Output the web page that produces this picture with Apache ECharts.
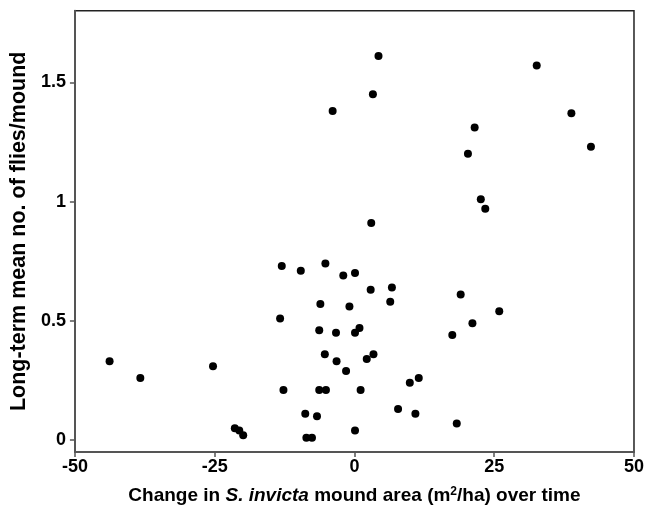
<!DOCTYPE html>
<html>
<head>
<meta charset="utf-8">
<script src="https://cdn.jsdelivr.net/npm/echarts@6/dist/echarts.min.js"></script>
<style>html,body{margin:0;padding:0;background:#fff}#c{width:647px;height:510px}</style>
</head>
<body>
<div id="c"></div>
<script>
// Change in S. invicta mound area (m2/ha)
const xValues = [4.3, 3.3, 32.6, 38.8, 42.3, 21.5, 20.3, 22.6, 23.4, 3.0,
  -3.9, -43.8, -38.3, -25.3, -21.4, -20.6, -19.9, -13.0, -13.3, -12.7,
  -9.6, -5.2, -2.0, 0.1, -6.1, -0.9, -6.3, -3.3, 0.1, 0.9,
  -5.3, -3.2, -1.5, -6.3, -5.1, 1.1, -8.8, -6.7, -8.6, -7.6,
  0.1, 2.9, 6.7, 6.4, 19.0, 25.9, 21.1, 17.5, 3.4, 2.2,
  11.5, 9.9, 7.8, 10.9, 18.3];
// Long-term mean no. of flies/mound
const yValues = [1.61, 1.45, 1.57, 1.37, 1.23, 1.31, 1.20, 1.01, 0.97, 0.91,
  1.38, 0.33, 0.26, 0.31, 0.05, 0.04, 0.02, 0.73, 0.51, 0.21,
  0.71, 0.74, 0.69, 0.70, 0.57, 0.56, 0.46, 0.45, 0.45, 0.47,
  0.36, 0.33, 0.29, 0.21, 0.21, 0.21, 0.11, 0.10, 0.01, 0.01,
  0.04, 0.63, 0.64, 0.58, 0.61, 0.54, 0.49, 0.44, 0.36, 0.34,
  0.26, 0.24, 0.13, 0.11, 0.07];
const xTicks = [-50, -25, 0, 25, 50];
const yTicks = [0, 0.5, 1, 1.5];

const points = xValues.map((x, i) => [x, yValues[i]]);
const FONT = '"Liberation Sans", Arial, sans-serif';

const chart = echarts.init(document.getElementById('c'), null, {renderer: 'canvas'});
chart.setOption({
  animation: false,
  grid: {left: 74.5, right: 12, top: 10.7, bottom: 57.3, show: true, borderColor: '#222', borderWidth: 1.5, backgroundColor: '#fff'},
  xAxis: {
    type: 'value', min: -50, max: 50, interval: 25,
    axisLine: {show: true, onZero: false, lineStyle: {color: '#555', width: 2}},
    axisTick: {show: true, length: 5, lineStyle: {color: '#555', width: 1.5}},
    axisLabel: {color: '#000', fontFamily: FONT, fontWeight: 'bold', fontSize: 18, margin: 6,
      formatter: v => xTicks.includes(v) ? String(v) : ''},
    splitLine: {show: false},
    name: '{a|Change in }{i|S. invicta}{a| mound area (m}{s|2}{a|/ha) over time}',
    nameLocation: 'middle', nameGap: 34,
    nameTextStyle: {
      rich: {
        a: {fontFamily: FONT, fontWeight: 'bold', fontSize: 19, color: '#000'},
        i: {fontFamily: FONT, fontWeight: 'bold', fontStyle: 'italic', fontSize: 19, color: '#000'},
        s: {fontFamily: FONT, fontWeight: 'bold', fontSize: 12, color: '#000', verticalAlign: 'top', padding: [0, 0, 7, 0]}
      }
    }
  },
  yAxis: {
    type: 'value', min: -0.05, max: 1.8,
    axisLine: {show: true, onZero: false, lineStyle: {color: '#555', width: 2}},
    axisTick: {show: true, length: 5, lineStyle: {color: '#555', width: 1.5}, customValues: yTicks},
    axisLabel: {color: '#000', fontFamily: FONT, fontWeight: 'bold', fontSize: 18, margin: 9,
      customValues: yTicks, formatter: v => String(v)},
    splitLine: {show: false},
    name: 'Long-term mean no. of flies/mound',
    nameLocation: 'middle', nameGap: 43, nameRotate: 90,
    nameTextStyle: {fontFamily: FONT, fontWeight: 'bold', fontSize: 21.5, color: '#000'}
  },
  series: [{
    type: 'scatter', data: points, symbol: 'circle', symbolSize: 8,
    itemStyle: {color: '#000', opacity: 1}
  }]
});
</script>
</body>
</html>
